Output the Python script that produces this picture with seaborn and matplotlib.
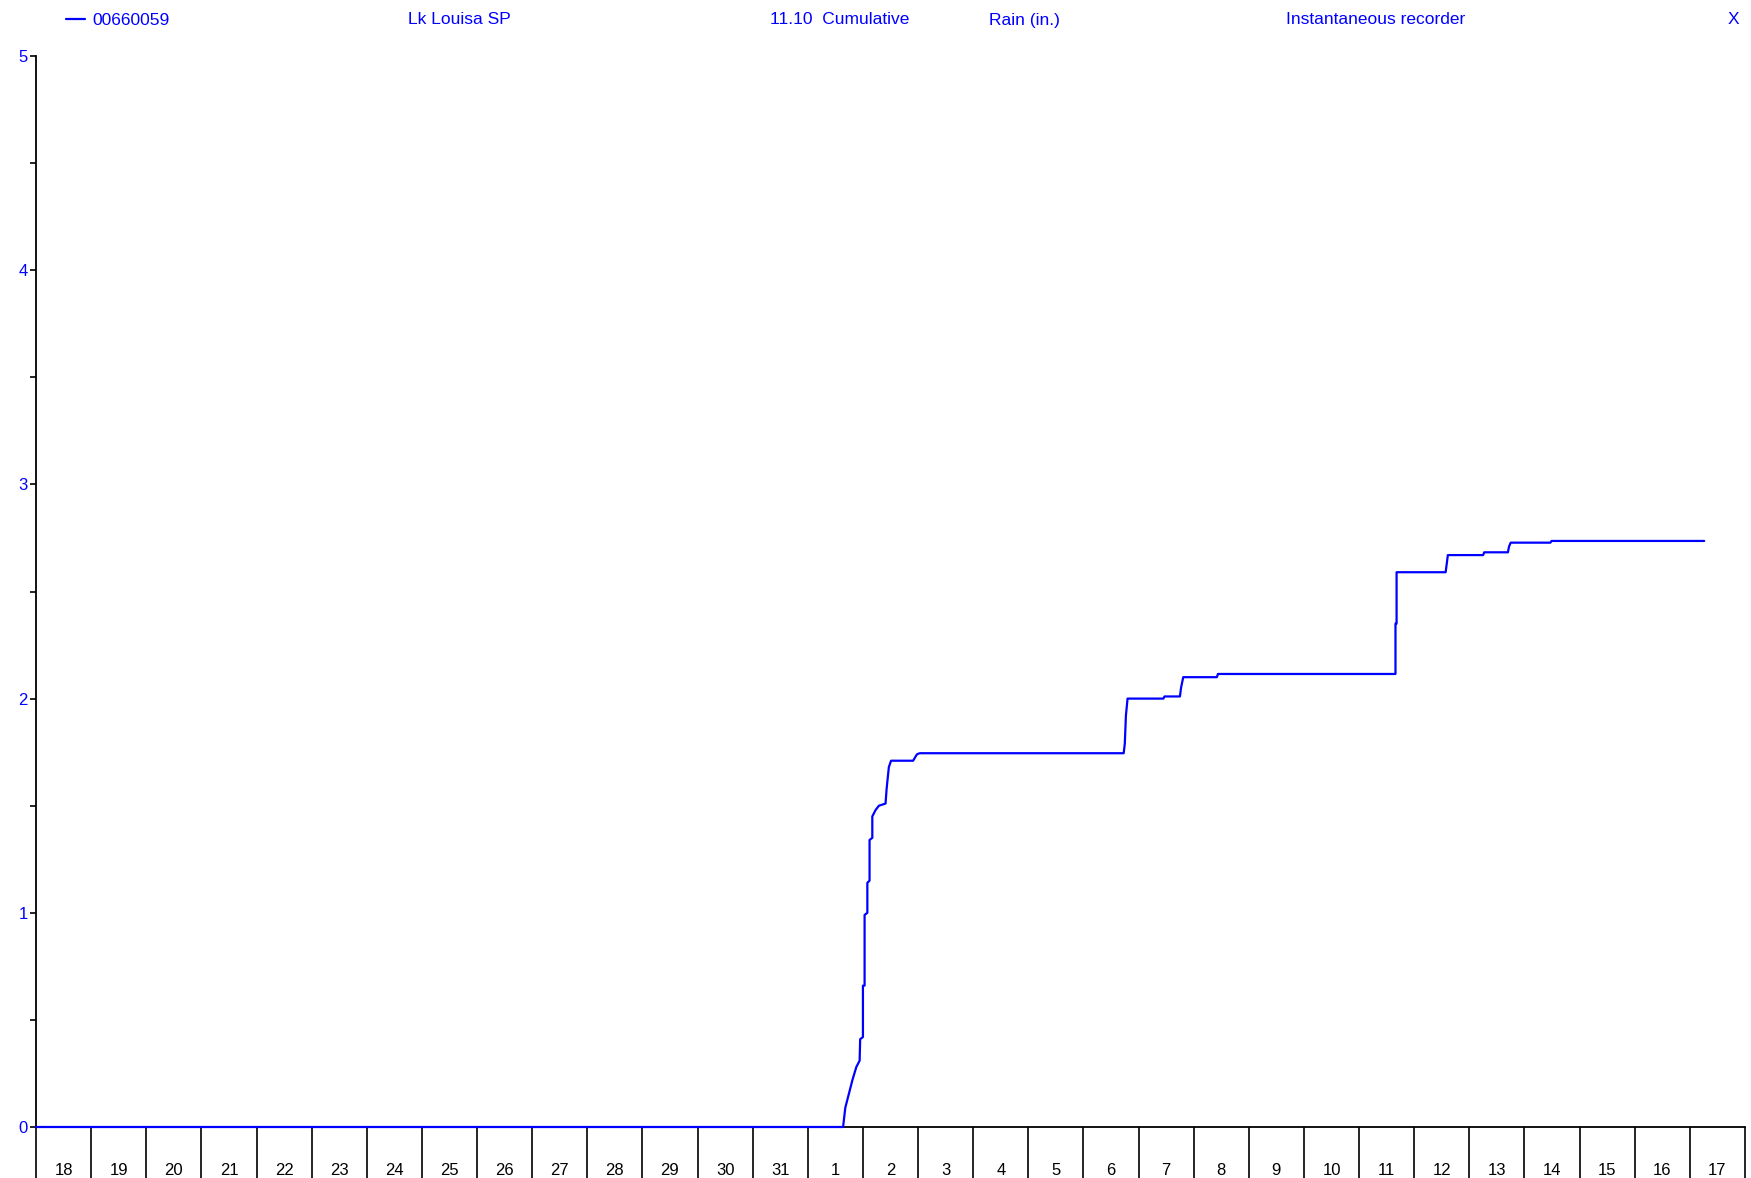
import numpy as np
import pandas as pd
import matplotlib
matplotlib.use('Agg')
import matplotlib.pyplot as plt
from matplotlib.ticker import MultipleLocator, FixedLocator, FixedFormatter
import seaborn as sns

# header texts
station_id = '00660059'
station_name = 'Lk Louisa SP'
series_name = '11.10  Cumulative'
units = 'Rain (in.)'
recorder = 'Instantaneous recorder'

# day labels along the bottom (Oct 18 .. Nov 17)
day_labels = [str(d) for d in range(18, 32)] + [str(d) for d in range(1, 18)]

# cumulative rain, time in days since Oct 18 00:00
t_days = [0.00, 14.64, 14.68, 14.76, 14.81, 14.88, 14.94, 14.95, 15.00, 15.00,
          15.03, 15.03, 15.08, 15.08, 15.12, 15.12, 15.17, 15.17, 15.23, 15.29,
          15.41, 15.43, 15.47, 15.51, 15.91, 15.98, 16.03, 19.73, 19.75, 19.77,
          19.80, 20.45, 20.47, 20.75, 20.77, 20.81, 21.42, 21.44, 24.66, 24.66,
          24.68, 24.68, 25.57, 25.59, 25.61, 26.25, 26.27, 26.70, 26.72, 26.75,
          27.47, 27.49, 30.26]
rain_in = [0.00, 0.00, 0.09, 0.17, 0.22, 0.28, 0.31, 0.41, 0.42, 0.66,
           0.66, 0.99, 1.00, 1.14, 1.15, 1.34, 1.35, 1.45, 1.48, 1.50,
           1.51, 1.58, 1.68, 1.71, 1.71, 1.74, 1.745, 1.745, 1.79, 1.92,
           2.00, 2.00, 2.01, 2.01, 2.05, 2.10, 2.10, 2.115, 2.115, 2.35,
           2.35, 2.59, 2.59, 2.63, 2.67, 2.67, 2.683, 2.683, 2.71, 2.728,
           2.728, 2.736, 2.736]

df = pd.DataFrame({'day': t_days, 'rain': rain_in})

sns.set_theme(style='white')
plt.rcParams['font.family'] = ['Liberation Sans', 'DejaVu Sans']

W, H = 1751, 1178
fig = plt.figure(figsize=(W / 100, H / 100), dpi=100)
ax = fig.add_axes([36 / W, 1 - 1127 / H, (1745 - 36) / W, (1127 - 56) / H])

sns.lineplot(data=df, x='day', y='rain', ax=ax, sort=False, estimator=None,
             color='#0000ff', linewidth=1.6, label=station_id, zorder=5,
             clip_on=False)

ax.set_xlim(0, len(day_labels))
ax.set_ylim(0, 5)
ax.set_xlabel('')
ax.set_ylabel('')

for s in ['top', 'right']:
    ax.spines[s].set_visible(False)
for s in ['left', 'bottom']:
    ax.spines[s].set_color('black')
    ax.spines[s].set_linewidth(1.3)

# y axis
ax.yaxis.set_major_locator(MultipleLocator(1))
ax.yaxis.set_minor_locator(MultipleLocator(0.5))
ax.tick_params(axis='y', which='major', direction='out', length=4, width=1.2,
               color='black', labelcolor='#0000ff', labelsize=12, pad=2, left=True)
ax.tick_params(axis='y', which='minor', direction='out', length=4, width=1.2,
               color='black', left=True)

# x axis: boundaries drawn as long ticks, labels centred in each cell
n = len(day_labels)
ax.xaxis.set_major_locator(FixedLocator(np.arange(0, n + 1)))
ax.xaxis.set_major_formatter(FixedFormatter([''] * (n + 1)))
ax.xaxis.set_minor_locator(FixedLocator(np.arange(n) + 0.5))
ax.xaxis.set_minor_formatter(FixedFormatter(day_labels))
ax.tick_params(axis='x', which='major', direction='out', length=40, width=1.2,
               color='black', bottom=True)
ax.tick_params(axis='x', which='minor', length=0, labelsize=12,
               labelcolor='black', pad=26, bottom=True)

# header line
leg = ax.legend(loc='center left', bbox_to_anchor=(66 / W, 1 - 20 / H),
                bbox_transform=fig.transFigure, frameon=False, fontsize=12.5,
                handlelength=1.1, handletextpad=0.4, borderpad=0,
                borderaxespad=0, labelcolor='#0000ff')
hy = 1 - 20 / H
for txt, x in [(station_name, 408), (series_name, 770), (units, 989),
               (recorder, 1286), ('X', 1728)]:
    fig.text(x / W, hy, txt, color='#0000ff', fontsize=12.5, va='center', ha='left')

fig.savefig('out.png', dpi=100)
